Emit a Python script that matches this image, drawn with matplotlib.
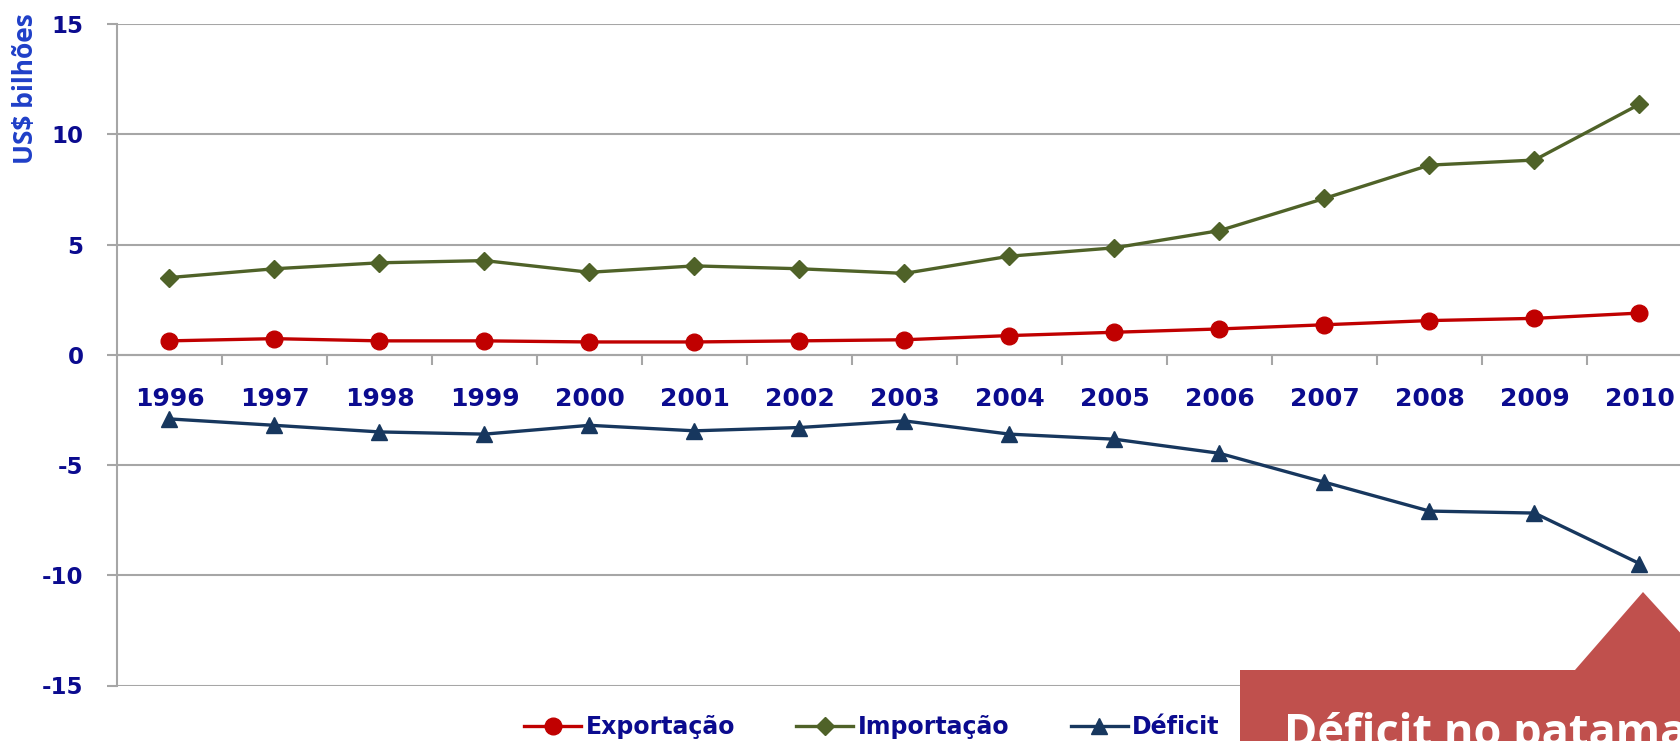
import matplotlib
matplotlib.use("Agg")
import matplotlib.pyplot as plt
from matplotlib.patches import Polygon
from matplotlib.ticker import FixedLocator, NullFormatter

years = ["1996", "1997", "1998", "1999", "2000", "2001", "2002", "2003",
         "2004", "2005", "2006", "2007", "2008", "2009", "2010"]
exportacao = [0.63, 0.73, 0.63, 0.63, 0.58, 0.58, 0.63, 0.68, 0.87, 1.02,
              1.17, 1.36, 1.55, 1.65, 1.89]
importacao = [3.50, 3.90, 4.17, 4.27, 3.74, 4.03, 3.90, 3.69, 4.47, 4.85,
              5.63, 7.09, 8.60, 8.83, 11.36]
deficit = [-2.91, -3.20, -3.50, -3.60, -3.20, -3.45, -3.30, -3.00, -3.60,
           -3.83, -4.47, -5.78, -7.09, -7.18, -9.47]
y_ticks = [-15, -10, -5, 0, 5, 10, 15]
series_names = ["Exportação", "Importação", "Déficit"]
callout_text = "Déficit no patamar"

W, H = 1681, 741
fig = plt.figure(figsize=(W / 100, H / 100), dpi=100)
fig.patch.set_facecolor("white")

ax_left, ax_right = 117 / W, 1692 / W
ax_bottom, ax_top = 1 - 685.5 / H, 1 - 24 / H
ax = fig.add_axes([ax_left, ax_bottom, ax_right - ax_left, ax_top - ax_bottom])

x = list(range(len(years)))
grid_c = "#A6A6A6"
navy = "#0B0B8F"

ax.plot(x, exportacao, color="#C00000", lw=2.4, marker="o", ms=12,
        label=series_names[0], zorder=3)
ax.plot(x, importacao, color="#4F6228", lw=2.4, marker="D", ms=9,
        label=series_names[1], zorder=3)
ax.plot(x, deficit, color="#17375E", lw=2.4, marker="^", ms=12,
        label=series_names[2], zorder=3)

ax.set_xlim(-0.5, len(years) - 0.5)
ax.set_ylim(-15, 15)
ax.set_yticks(y_ticks)
ax.set_yticklabels([str(v) for v in y_ticks])
ax.yaxis.grid(True, color=grid_c, lw=1.5)
ax.set_axisbelow(True)

for s in ["top", "right"]:
    ax.spines[s].set_visible(False)
ax.spines["left"].set_color(grid_c)
ax.spines["left"].set_linewidth(1.5)
ax.spines["bottom"].set_position(("data", 0))
ax.spines["bottom"].set_color(grid_c)
ax.spines["bottom"].set_linewidth(1.5)

# major ticks at category boundaries (no labels), minor at centres (labels)
ax.xaxis.set_major_locator(FixedLocator([i + 0.5 for i in x[:-1]]))
ax.xaxis.set_major_formatter(NullFormatter())
ax.xaxis.set_minor_locator(FixedLocator(x))
ax.set_xticklabels(years, minor=True)
ax.tick_params(axis="x", which="major", direction="out", length=7,
               width=1.5, color=grid_c)
ax.tick_params(axis="x", which="minor", length=0, pad=23,
               labelsize=18, labelcolor=navy)
for lab in ax.get_xticklabels(minor=True):
    lab.set_fontweight("bold")

ax.tick_params(axis="y", direction="out", length=7, width=1.5, color=grid_c,
               pad=17, labelsize=16.5, labelcolor=navy)
for lab in ax.get_yticklabels():
    lab.set_fontweight("bold")

fig.text(26 / W, 1 - 89 / H, "US$ bilhões", rotation=90, ha="center",
         va="center", color="#1F3FC8", fontsize=19, fontweight="bold",
         family="Open Sans")

leg = fig.legend(loc="center", bbox_to_anchor=(872 / W, 1 - 727 / H),
                 ncol=3, frameon=False, handlelength=2.4, columnspacing=2.6,
                 handletextpad=0.2,
                 prop={"size": 17, "weight": "bold", "family": "DejaVu Sans"})
for t in leg.get_texts():
    t.set_color(navy)

# callout shape
pts_px = [(1240, 670), (1575, 670), (1643, 592), (1760, 720), (1760, 780),
          (1240, 780)]
poly = Polygon([(px / W, 1 - py / H) for px, py in pts_px], closed=True,
               transform=fig.transFigure, facecolor="#C0504D",
               edgecolor="none", zorder=5)
fig.patches.append(poly)
fig.text(1284 / W, 1 - 746 / H, callout_text, ha="left", va="baseline",
         color="white", fontsize=32.5, fontweight="bold", family="Open Sans",
         zorder=6)

fig.savefig("out.png", dpi=100)
